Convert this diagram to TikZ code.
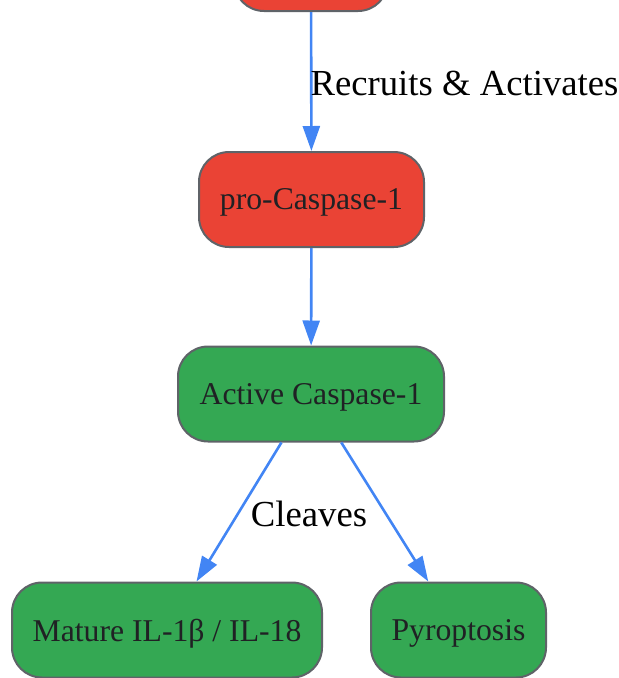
\documentclass[tikz,border=0pt]{standalone}
\usepackage{fontspec}
\setmainfont{Liberation Serif}
\usetikzlibrary{arrows.meta,positioning}
\definecolor{casred}{HTML}{EA4335}
\definecolor{casgreen}{HTML}{34A853}
\definecolor{bordergray}{HTML}{5F6368}
\definecolor{textgray}{HTML}{202124}
\definecolor{linkblue}{HTML}{4285F4}
\tikzset{
    stage/.style={draw=bordergray, line width=2pt, rounded corners=30pt, minimum height=95pt, inner sep=0pt, text depth=0pt, text=textgray, font=\fontsize{31.7}{38}\selectfont},
    link/.style={draw=linkblue, line width=2.6pt, -{Triangle[length=25pt,width=17pt]}},
    linklabel/.style={font=\fontsize{36.7}{44}\selectfont, text=black, inner sep=0pt}
}

\begin{document}
\begin{tikzpicture}[x=1pt, y=-1pt]
    \useasboundingbox (0,0) rectangle (619,678);
    \clip (0,0) rectangle (619,678);
    \node[stage, fill=casred, minimum width=154pt] (sensor) at (311,-36.5) {};
    \node[stage, fill=casred, minimum width=225pt] (procasp) at (311.5,199.5) {pro-Caspase-1};
    \node[stage, fill=casgreen, minimum width=266pt] (actcasp) at (311,394) {Active Caspase-1};
    \node[stage, fill=casgreen, minimum width=310pt] (mature) at (167,630) {Mature IL-1β / IL-18};
    \node[stage, fill=casgreen, minimum width=175pt] (pyro) at (458.5,630) {Pyroptosis};
    \draw[link] (sensor) -- node[linklabel, anchor=west, xshift=-2pt, yshift=-2pt] (recruitlbl) {Recruits \& Activates} (procasp);
    \draw[link] (procasp) -- (actcasp);
    \draw[link] (actcasp) -- node[linklabel, xshift=70pt, yshift=-2pt] (cleavelbl) {Cleaves} (mature);
    \draw[link] (actcasp) -- (pyro);
\end{tikzpicture}
\end{document}
